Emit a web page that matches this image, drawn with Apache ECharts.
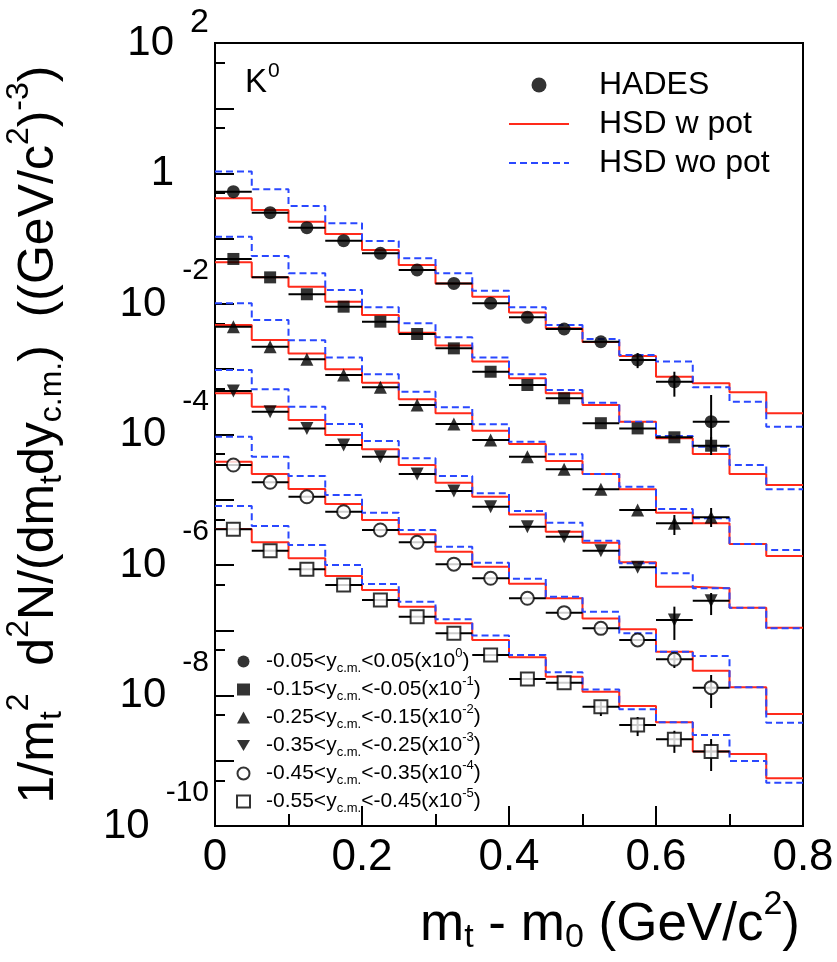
<!DOCTYPE html>
<html><head><meta charset="utf-8">
<script src="https://cdn.jsdelivr.net/npm/echarts@6/dist/echarts.min.js"></script>
<style>html,body{margin:0;padding:0;background:#fff}#c{width:837px;height:962px}</style>
</head><body><div id="c"></div>
<script>
// ---------- data ----------
const binEdges = [0,0.05,0.1,0.15,0.2,0.25,0.3,0.35,0.4,0.45,0.5,0.55,0.6,0.65,0.7,0.75,0.8];
const ptX = [0.025,0.075,0.125,0.175,0.225,0.275,0.325,0.375,0.425,0.475,0.525,0.575,0.625,0.675];
const binHalf = 0.025;

const hadesY1 = [0.526,0.251,0.148,0.0933,0.0598,0.0332,0.0207,0.0103,6.25e-3,4.14e-3,2.64e-3,1.39e-3,6.44e-4,1.57e-4];
const hadesY2 = [4.90e-2,2.56e-2,1.41e-2,9.10e-3,5.36e-3,3.47e-3,2.09e-3,9.16e-4,5.74e-4,3.59e-4,1.49e-4,1.24e-4,9.06e-5,6.73e-5];
const hadesY3 = [4.49e-3,2.22e-3,1.42e-3,8.17e-4,5.28e-4,2.83e-4,1.45e-4,8.24e-5,4.57e-5,2.93e-5,1.45e-5,6.97e-6,4.36e-6,5.38e-6];
const hadesY4 = [4.65e-4,2.23e-4,1.24e-4,6.90e-5,4.57e-5,2.48e-5,1.36e-5,7.82e-6,3.86e-6,2.72e-6,1.66e-6,9.23e-7,1.44e-7,2.84e-7];
const hadesY5 = [3.41e-5,1.85e-5,1.11e-5,6.56e-6,3.44e-6,2.23e-6,1.03e-6,6.25e-7,3.09e-7,1.86e-7,1.07e-7,7.10e-8,3.59e-8,1.32e-8];
const hadesY6 = [3.52e-6,1.66e-6,8.59e-7,4.93e-7,2.91e-7,1.61e-7,8.97e-8,4.18e-8,1.79e-8,1.57e-8,6.73e-9,3.53e-9,2.13e-9,1.38e-9];

// vertical error bars [low, high] (null = smaller than marker)
const errY1 = [null,null,null,null,null,null,null,null,null,null,null,[1.04e-3,1.77e-3],[3.80e-4,9.16e-4],[6.90e-5,4.03e-4]];
const errY2 = [null,null,null,null,null,null,null,null,null,null,null,null,null,[4.85e-5,9.16e-5]];
const errY3 = [null,null,null,null,null,null,null,null,null,null,null,null,[2.88e-6,5.83e-6],[3.82e-6,7.48e-6]];
const errY4 = [null,null,null,null,null,null,null,null,null,null,null,null,[7.10e-8,2.30e-7],[1.71e-7,3.72e-7]];
const errY5 = [null,null,null,null,null,null,null,null,null,null,null,null,[2.64e-8,4.48e-8],[6.43e-9,2.06e-8]];
const errY6 = [null,null,null,null,null,null,null,null,null,null,[4.85e-9,8.04e-9],[2.39e-9,4.68e-9],[1.32e-9,2.88e-9],[6.97e-10,2.15e-9]];

const hsdPotY1 = [0.417,0.276,0.182,0.118,0.0673,0.0396,0.0207,0.0129,7.41e-3,4.25e-3,2.62e-3,1.60e-3,7.69e-4,6.09e-4,4.44e-4,2.11e-4];
const hsdPotY2 = [4.36e-2,2.56e-2,1.84e-2,1.08e-2,6.78e-3,3.63e-3,2.31e-3,1.31e-3,7.26e-4,4.28e-4,2.83e-4,1.57e-4,8.75e-5,5.02e-5,2.48e-5,1.68e-5];
const hsdPotY3 = [4.76e-3,2.81e-3,1.75e-3,9.98e-4,6.22e-4,3.46e-4,2.11e-4,1.14e-4,7.14e-5,3.93e-5,2.48e-5,1.45e-5,6.34e-6,4.36e-6,2.10e-6,1.37e-6];
const hsdPotY4 = [4.28e-4,2.67e-4,1.67e-4,9.82e-5,5.93e-5,3.41e-5,1.82e-5,1.11e-5,5.94e-6,3.24e-6,2.20e-6,1.10e-6,4.65e-7,4.40e-7,2.22e-7,1.09e-7];
const hsdPotY5 = [3.83e-5,2.48e-5,1.46e-5,8.61e-6,4.90e-6,2.95e-6,1.60e-6,9.42e-7,5.16e-7,3.09e-7,1.52e-7,1.04e-7,4.69e-8,2.40e-8,1.34e-8,5.20e-9];
const hsdPotY6 = [3.56e-6,2.23e-6,1.27e-6,6.78e-7,4.14e-7,2.30e-7,1.28e-7,7.10e-8,3.85e-8,1.94e-8,1.14e-8,6.90e-9,3.88e-9,1.38e-9,1.27e-9,5.38e-10];

const hsdNoPotY1 = [1.07,0.573,0.318,0.173,0.0925,0.0501,0.0295,0.0160,8.89e-3,4.76e-3,2.91e-3,1.65e-3,1.31e-3,5.28e-4,3.18e-4,1.32e-4];
const hsdNoPotY2 = [0.107,0.0544,0.0295,0.0164,8.89e-3,5.06e-3,3.09e-3,1.52e-3,8.37e-4,4.81e-4,3.07e-4,1.57e-4,9.48e-5,6.50e-5,3.41e-5,1.45e-5];
const hsdNoPotY3 = [1.03e-2,5.69e-3,2.78e-3,1.52e-3,8.37e-4,4.53e-4,2.61e-4,1.43e-4,7.76e-5,4.98e-5,2.48e-5,1.58e-5,7.21e-6,5.20e-6,2.10e-6,1.70e-6];
const hsdNoPotY4 = [9.75e-4,4.93e-4,2.67e-4,1.45e-4,7.94e-5,4.32e-5,2.31e-5,1.26e-5,6.73e-6,4.45e-6,2.36e-6,1.06e-6,7.46e-7,4.40e-7,2.22e-7,1.07e-7];
const hsdNoPotY5 = [9.25e-5,4.57e-5,2.31e-5,1.18e-5,6.34e-6,3.44e-6,1.91e-6,1.08e-6,6.15e-7,3.27e-7,1.92e-7,8.97e-8,4.69e-8,4.03e-8,1.34e-8,3.83e-9];
const hsdNoPotY6 = [8.02e-6,3.96e-6,2.03e-6,1.00e-6,5.12e-7,2.74e-7,1.47e-7,8.32e-8,4.18e-8,2.27e-8,1.24e-8,6.15e-9,3.88e-9,2.48e-9,9.91e-10,4.61e-10];

const rapLow  = ['-0.05','-0.15','-0.25','-0.35','-0.45','-0.55'];
const rapHigh = ['0.05','-0.05','-0.15','-0.25','-0.35','-0.45'];
const scaleExp = ['0','-1','-2','-3','-4','-5'];

const yMajorTicks = [1e2,1e1,1,1e-1,1e-2,1e-3,1e-4,1e-5,1e-6,1e-7,1e-8,1e-9,1e-10];
const yMinorTicks = [5e1,5,5e-1,5e-2,5e-3,5e-4,5e-5,5e-6,5e-7,5e-8,5e-9,5e-10];
const yLabelTicks = [1e2,1,1e-2,1e-4,1e-6,1e-8,1e-10];

// ---------- build ----------
const FONT = '"Liberation Sans", Arial, Helvetica, sans-serif';
const RED = '#ff2a1a', BLUE = '#2a48ff';
const hadesAll = [hadesY1,hadesY2,hadesY3,hadesY4,hadesY5,hadesY6];
const errAll = [errY1,errY2,errY3,errY4,errY5,errY6];
const potAll = [hsdPotY1,hsdPotY2,hsdPotY3,hsdPotY4,hsdPotY5,hsdPotY6];
const noPotAll = [hsdNoPotY1,hsdNoPotY2,hsdNoPotY3,hsdNoPotY4,hsdNoPotY5,hsdNoPotY6];
const rapNames = rapLow.map((lo,i)=>`${lo}<y_c.m.<${rapHigh[i]}(x10^${scaleExp[i]})`);

const downTri = 'path://M0,0L20,0L10,17Z';
const markerDefs = [
  {symbol:'circle', size:13, fill:'#000'},
  {symbol:'rect', size:12, fill:'#000'},
  {symbol:'triangle', size:13, fill:'#000'},
  {symbol:downTri, size:13, fill:'#000'},
  {symbol:'circle', size:13, fill:'#fff'},
  {symbol:'rect', size:13, fill:'#fff'}
];

function histData(vals){
  return binEdges.map((x,j)=>[x, vals[Math.min(j, vals.length-1)]]);
}

const series = [];
potAll.forEach(v=>series.push({
  name:'HSD w pot', type:'line', step:'end', data:histData(v), symbol:'none', z:2,
  lineStyle:{color:RED, width:2}, itemStyle:{color:RED}, silent:true, animation:false
}));
noPotAll.forEach(v=>series.push({
  name:'HSD wo pot', type:'line', step:'end', data:histData(v), symbol:'none', z:2,
  lineStyle:{color:BLUE, width:2, type:[7,4]}, itemStyle:{color:BLUE}, silent:true, animation:false
}));
errAll.forEach((err,k)=>series.push({
  type:'custom', z:3, silent:true, animation:false,
  renderItem(params, api){
    const x = api.value(0), y = api.value(1), lo = api.value(2), hi = api.value(3);
    const l = api.coord([x-binHalf, y]), r = api.coord([x+binHalf, y]);
    const ch = [{type:'line', shape:{x1:l[0],y1:l[1],x2:r[0],y2:r[1]}, style:{stroke:'#000', lineWidth:2}}];
    if (lo > 0 && hi > 0) {
      const a = api.coord([x, hi]), b = api.coord([x, lo]);
      ch.push({type:'line', shape:{x1:a[0],y1:a[1],x2:b[0],y2:b[1]}, style:{stroke:'#000', lineWidth:2}});
    }
    return {type:'group', children:ch};
  },
  data: ptX.map((x,i)=>[x, hadesAll[k][i], err[i]?err[i][0]:0, err[i]?err[i][1]:0])
}));
series.push({name:'HADES', type:'scatter', data:[], symbol:'circle', symbolSize:13, itemStyle:{color:'#000'}});
hadesAll.forEach((vals,k)=>{
  const m = markerDefs[k];
  series.push({
    name: rapNames[k], type:'scatter', z:4, animation:false,
    symbol:m.symbol, symbolSize:m.size,
    itemStyle:{color:m.fill, borderColor:'#000', borderWidth: m.fill==='#fff'?2:0},
    data: ptX.map((x,i)=>[x, vals[i]])
  });
});

const chart = echarts.init(document.getElementById('c'), null, {renderer:'canvas'});
chart.setOption({
  animation:false,
  backgroundColor:'#fff',
  textStyle:{fontFamily:FONT, color:'#000'},
  grid:{left:215, top:43, width:588, height:783, show:true, borderColor:'#000', borderWidth:2,
    backgroundColor:'transparent', containLabel:false, outerBoundsMode:'none'},
  xAxis:{
    type:'value', min:0, max:0.8, interval:0.2,
    axisLine:{show:true, lineStyle:{color:'#000', width:2}},
    axisTick:{show:true, inside:true, length:20, lineStyle:{color:'#000', width:2}},
    minorTick:{show:true, splitNumber:2, length:12, lineStyle:{color:'#000', width:2}},
    splitLine:{show:false},
    axisLabel:{fontSize:44, color:'#000', margin:10, fontFamily:FONT,
      formatter:v=> v===0 ? '0' : v.toFixed(1)},
    name:'{m|m}{sb|t}{m| - m}{sb|0}{m| (GeV/c}{sp|2}{m|)}',
    nameLocation:'end', nameGap:-3,
    nameTextStyle:{align:'right', verticalAlign:'middle', padding:[198,0,0,0], fontFamily:FONT, color:'#000',
      rich:{
        m:{fontSize:53, fontFamily:FONT, color:'#000'},
        sb:{fontSize:34, fontFamily:FONT, color:'#000', padding:[26,0,0,0]},
        sp:{fontSize:34, fontFamily:FONT, color:'#000', padding:[0,0,40,0]}
      }}
  },
  yAxis:[{
    type:'log', logBase:10, min:1e-10, max:1e2,
    axisLine:{show:true, lineStyle:{color:'#000', width:2}},
    axisTick:{show:true, inside:true, length:19, customValues:yMajorTicks, lineStyle:{color:'#000', width:2}},
    splitLine:{show:false},
    axisLabel:{customValues:yLabelTicks, margin:6, color:'#000', fontFamily:FONT,
      formatter:v=>{
        const e = Math.round(Math.log10(v));
        if (e===0) return '{one|1}';
        if (e===2) return '{b|10}{t|2}';
        return '{b|10}{e|'+e+'}';
      },
      rich:{
        b:{fontSize:42, fontFamily:FONT, color:'#000'},
        one:{fontSize:42, fontFamily:FONT, color:'#000', padding:[0,35,0,0]},
        e:{fontSize:30, fontFamily:FONT, color:'#000', padding:[0,0,66,16]},
        t:{fontSize:34, fontFamily:FONT, color:'#000', padding:[0,0,40,16]}
      }},
    name:'{m|1/m}{sb|t}{sp|2}{m|  d}{sp|2}{m|N/(dm}{sb|t}{m|dy}{sb|c.m.}{m|)  ((GeV/c}{sp|2}{m|)}{sp|-3}{m|)}',
    nameLocation:'middle', nameRotate:90, nameGap:140,
    nameTextStyle:{fontFamily:FONT, color:'#000',
      rich:{
        m:{fontSize:50, fontFamily:FONT, color:'#000'},
        sb:{fontSize:32, fontFamily:FONT, color:'#000', padding:[26,0,0,0]},
        sp:{fontSize:32, fontFamily:FONT, color:'#000', padding:[0,0,40,0]}
      }}
  },{
    type:'log', logBase:10, min:1e-10, max:1e2, position:'left',
    axisLine:{show:false},
    axisTick:{show:true, inside:true, length:10, customValues:yMinorTicks, lineStyle:{color:'#000', width:2}},
    axisLabel:{show:false}, splitLine:{show:false}
  }],
  legend:[{
    orient:'vertical', left:508, top:69, padding:0, itemWidth:60, itemHeight:15, itemGap:7,
    data:['HADES',
      {name:'HSD w pot', itemStyle:{opacity:0}},
      {name:'HSD wo pot', itemStyle:{opacity:0}}],
    textStyle:{fontSize:32, fontFamily:FONT, color:'#000', padding:[0,0,0,25]},
    selectedMode:false
  },{
    orient:'vertical', left:236, top:647, padding:0, itemWidth:13, itemHeight:12, itemGap:0,
    data:rapNames,
    selectedMode:false,
    formatter:name=>{
      const i = rapNames.indexOf(name);
      return `{m0|${rapLow[i]}<y}{sb|c.m.}{m|<${rapHigh[i]}(x10}{sp|${scaleExp[i]}}{m|)}`;
    },
    textStyle:{fontFamily:FONT, color:'#000',
      rich:{
        m0:{fontSize:21, fontFamily:FONT, color:'#000', padding:[0,0,0,11]},
        m:{fontSize:21, fontFamily:FONT, color:'#000'},
        sb:{fontSize:13, fontFamily:FONT, color:'#000', padding:[14,0,0,0]},
        sp:{fontSize:13, fontFamily:FONT, color:'#000', padding:[0,0,16,0]}
      }}
  }],
  graphic:[{
    type:'text', left:245, top:61,
    style:{text:'{k|K}{s|0}', rich:{
      k:{fontSize:33, fontFamily:FONT, fill:'#000'},
      s:{fontSize:21, fontFamily:FONT, fill:'#000', padding:[0,0,22,1]}
    }}
  }],
  series
});
</script>
</body></html>
